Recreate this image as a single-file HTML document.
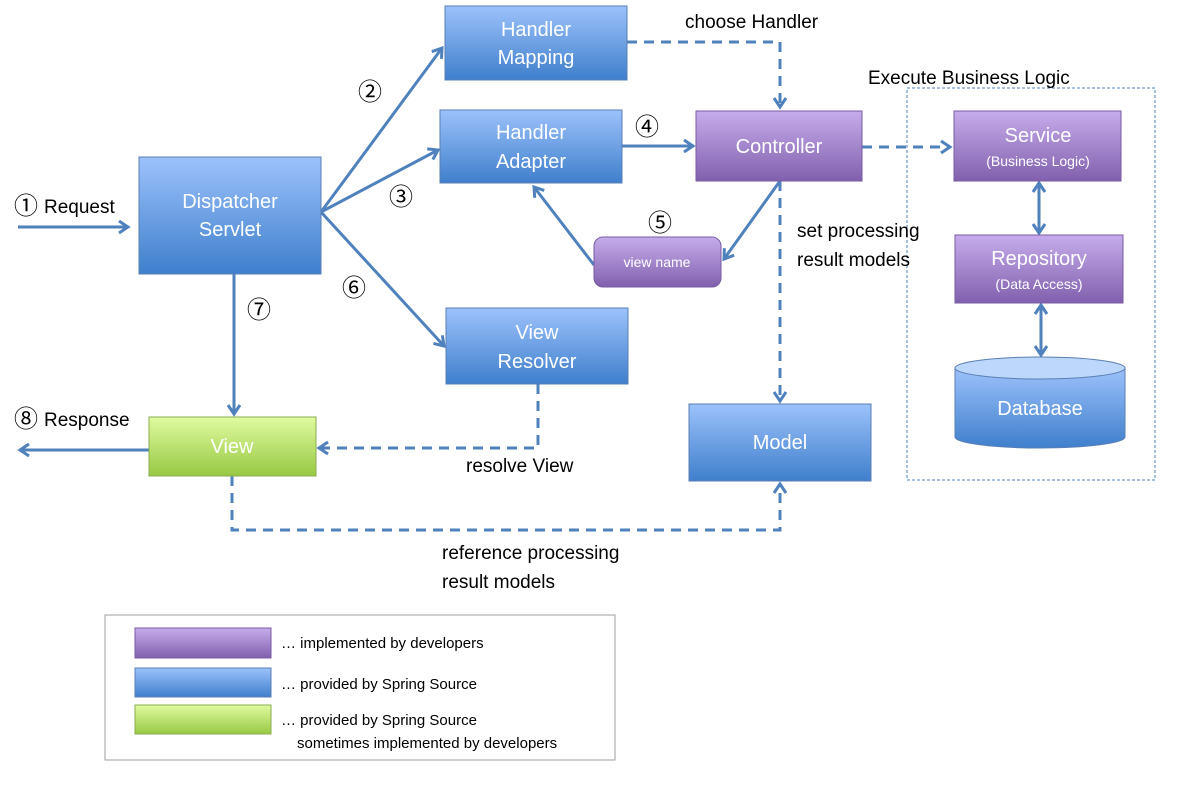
<!DOCTYPE html>
<html><head><meta charset="utf-8"><style>
body{margin:0;background:#fff}
svg{display:block;font-family:"Liberation Sans","DejaVu Sans",sans-serif}
.w{fill:#fff;font-size:20px;text-anchor:middle}
.s{fill:#fff;font-size:14px;text-anchor:middle}
.l{fill:#000;font-size:19px}
.n{fill:#000;font-size:24px;font-family:"Noto Sans CJK JP","DejaVu Sans",sans-serif}
.g{fill:#000;font-size:15px}
</style></head><body>
<svg width="1196" height="798" viewBox="0 0 1196 798">
<defs>
<linearGradient id="b" x1="0" y1="0" x2="0" y2="1"><stop offset="0" stop-color="#9cc2fb"/><stop offset="1" stop-color="#3f7fcc"/></linearGradient>
<linearGradient id="p" x1="0" y1="0" x2="0" y2="1"><stop offset="0" stop-color="#c6aceb"/><stop offset="1" stop-color="#8160ad"/></linearGradient>
<linearGradient id="gr" x1="0" y1="0" x2="0" y2="1"><stop offset="0" stop-color="#e0fba0"/><stop offset="1" stop-color="#97c843"/></linearGradient>
<marker id="a" markerWidth="14" markerHeight="16" refX="11" refY="8" orient="auto" markerUnits="userSpaceOnUse"><path d="M2,2 L11,8 L2,14" fill="none" stroke="#4f81bd" stroke-width="3"/></marker>
<marker id="as" markerWidth="14" markerHeight="16" refX="3" refY="8" orient="auto" markerUnits="userSpaceOnUse"><path d="M12,2 L3,8 L12,14" fill="none" stroke="#4f81bd" stroke-width="3"/></marker>
</defs>
<g stroke="#4f81bd" stroke-width="3" fill="none" marker-end="url(#a)">
<line x1="18" y1="227" x2="128" y2="227"/>
<line x1="321" y1="212" x2="442" y2="48"/>
<line x1="321" y1="212" x2="438" y2="150"/>
<line x1="321" y1="212" x2="444" y2="346"/>
<line x1="234" y1="274" x2="234" y2="414"/>
<line x1="149" y1="450" x2="20" y2="450"/>
<line x1="622" y1="146" x2="693" y2="146"/>
<line x1="780" y1="181" x2="724" y2="259"/>
<line x1="594" y1="265" x2="534" y2="187"/>
</g>
<g stroke="#4f81bd" stroke-width="3" fill="none" stroke-dasharray="10,7" marker-end="url(#a)">
<polyline points="627,42 780,42 780,107"/>
<line x1="862" y1="147" x2="950" y2="147"/>
<line x1="780" y1="181" x2="780" y2="401"/>
<polyline points="538,384 538,448 319,448"/>
<polyline points="232,476 232,530 780,530 780,484"/>
</g>
<g stroke="#4f81bd" stroke-width="3" fill="none" marker-end="url(#a)" marker-start="url(#as)">
<line x1="1039" y1="183" x2="1039" y2="233"/>
<line x1="1041" y1="305" x2="1041" y2="355"/>
</g>
<rect x="907" y="88" width="248" height="392" fill="none" stroke="#4f81bd" stroke-width="1" stroke-dasharray="3,2"/>
<g stroke="#5a7fb5" stroke-width="1">
<rect x="445" y="6" width="182" height="74" fill="url(#b)"/>
<rect x="440" y="110" width="182" height="73" fill="url(#b)"/>
<rect x="139" y="157" width="182" height="117" fill="url(#b)"/>
<rect x="446" y="308" width="182" height="76" fill="url(#b)"/>
<rect x="689" y="404" width="182" height="77" fill="url(#b)"/>
<rect x="149" y="417" width="167" height="59" fill="url(#gr)" stroke="#8aae50"/>
<rect x="696" y="111" width="166" height="70" fill="url(#p)" stroke="#7a5aa5"/>
<rect x="954" y="111" width="167" height="70" fill="url(#p)" stroke="#7a5aa5"/>
<rect x="955" y="235" width="168" height="68" fill="url(#p)" stroke="#7a5aa5"/>
<rect x="594" y="237" width="127" height="50" rx="9" fill="url(#p)" stroke="#7a5aa5"/>
<path d="M955,368 L955,437 A85,11 0 0 0 1125,437 L1125,368 Z" fill="url(#b)"/>
<ellipse cx="1040" cy="368" rx="85" ry="11" fill="#bcd7fb"/>
</g>
<text class="w" x="536" y="36">Handler</text><text class="w" x="536" y="64">Mapping</text>
<text class="w" x="531" y="139">Handler</text><text class="w" x="531" y="168">Adapter</text>
<text class="w" x="230" y="208">Dispatcher</text><text class="w" x="230" y="236">Servlet</text>
<text class="w" x="537" y="339">View</text><text class="w" x="537" y="368">Resolver</text>
<text class="w" x="780" y="449">Model</text>
<text class="w" x="232" y="453">View</text>
<text class="w" x="779" y="153">Controller</text>
<text class="w" x="1038" y="142">Service</text><text class="s" x="1038" y="166">(Business Logic)</text>
<text class="w" x="1039" y="265">Repository</text><text class="s" x="1039" y="289">(Data Access)</text>
<text class="w" x="1040" y="415">Database</text>
<text class="s" x="657" y="267">view name</text>
<text class="l" x="685" y="28">choose Handler</text>
<text class="l" x="868" y="84">Execute Business Logic</text>
<text class="l" x="797" y="237">set processing</text>
<text class="l" x="797" y="266">result models</text>
<text class="l" x="466" y="472">resolve View</text>
<text class="l" x="442" y="559">reference processing</text>
<text class="l" x="442" y="588">result models</text>
<text class="n" x="14" y="214">①</text><text class="l" x="44" y="213">Request</text>
<text class="n" x="14" y="427">⑧</text><text class="l" x="44" y="426">Response</text>
<text class="n" x="358" y="100">②</text>
<text class="n" x="389" y="205">③</text>
<text class="n" x="635" y="135">④</text>
<text class="n" x="648" y="231">⑤</text>
<text class="n" x="342" y="296">⑥</text>
<text class="n" x="247" y="318">⑦</text>
<rect x="105" y="615" width="510" height="145" fill="#fff" stroke="#a0a0a0"/>
<rect x="135" y="628" width="136" height="30" fill="url(#p)" stroke="#7a5aa5"/>
<rect x="135" y="668" width="136" height="29" fill="url(#b)" stroke="#5a7fb5"/>
<rect x="135" y="705" width="136" height="29" fill="url(#gr)" stroke="#8aae50"/>
<text class="g" x="281" y="648">… implemented by developers</text>
<text class="g" x="281" y="689">… provided by Spring Source</text>
<text class="g" x="281" y="725">… provided by Spring Source</text>
<text class="g" x="297" y="748">sometimes implemented by developers</text>
</svg>
</body></html>
